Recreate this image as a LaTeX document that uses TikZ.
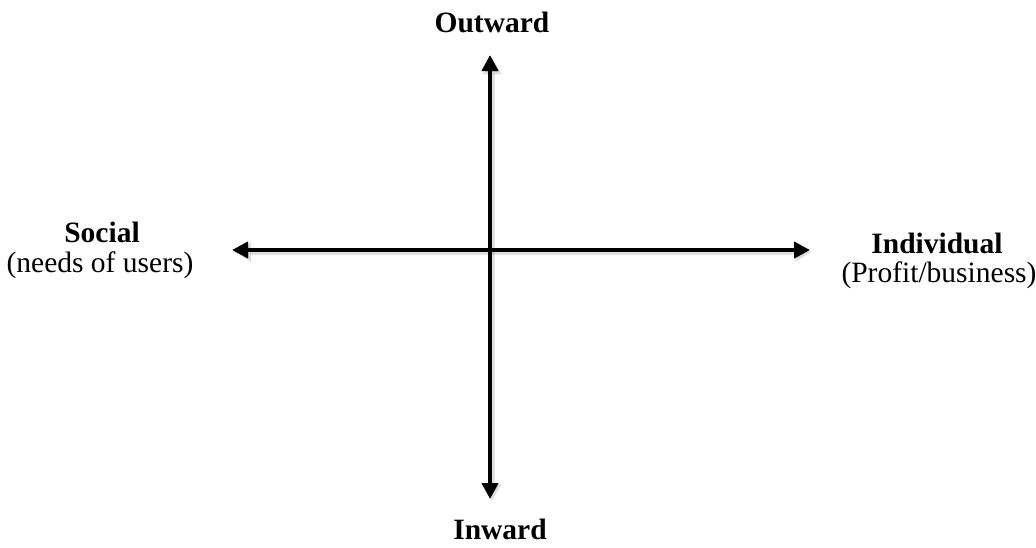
\documentclass[tikz,border=0pt]{standalone}
\usepackage{fontspec}
\setmainfont{Liberation Serif}
\usetikzlibrary{arrows.meta}
\begin{document}
\begin{tikzpicture}[x=1pt,y=-1pt,
  axis/.style={line width=4pt,{Triangle[length=16pt,width=16pt]}-{Triangle[length=16pt,width=16pt]}},
  shadowaxis/.style={line width=5pt,black,opacity=0.12,{Triangle[length=17pt,width=18pt]}-{Triangle[length=17pt,width=18pt]}},
  lbl/.style={font=\fontsize{29.5}{34}\selectfont,inner sep=0pt,anchor=base},
  blbl/.style={lbl,font=\fontsize{29.5}{34}\selectfont\bfseries}]
\useasboundingbox (0,0) rectangle (1036,547);
\coordinate (top) at (490,55);
\coordinate (bottom) at (490,499);
\coordinate (left) at (232,250);
\coordinate (right) at (810,250);
\coordinate (tops) at (492,57);
\coordinate (bottoms) at (492,501);
\coordinate (lefts) at (234,252);
\coordinate (rights) at (812,252);
\draw[shadowaxis] (tops) -- (bottoms);
\draw[shadowaxis] (lefts) -- (rights);
\draw[axis] (top) -- (bottom);
\draw[axis] (left) -- (right);
\node[blbl] (out) at (492,32) {Outward};
\node[blbl] (in) at (500,539) {Inward};
\node[blbl] (soc) at (102,242) {Social};
\node[lbl] (socsub) at (100,272) {(needs of users)};
\node[blbl] (ind) at (937,253) {Individual};
\node[lbl] (indsub) at (939,282) {(Profit/business)};
\end{tikzpicture}
\end{document}
